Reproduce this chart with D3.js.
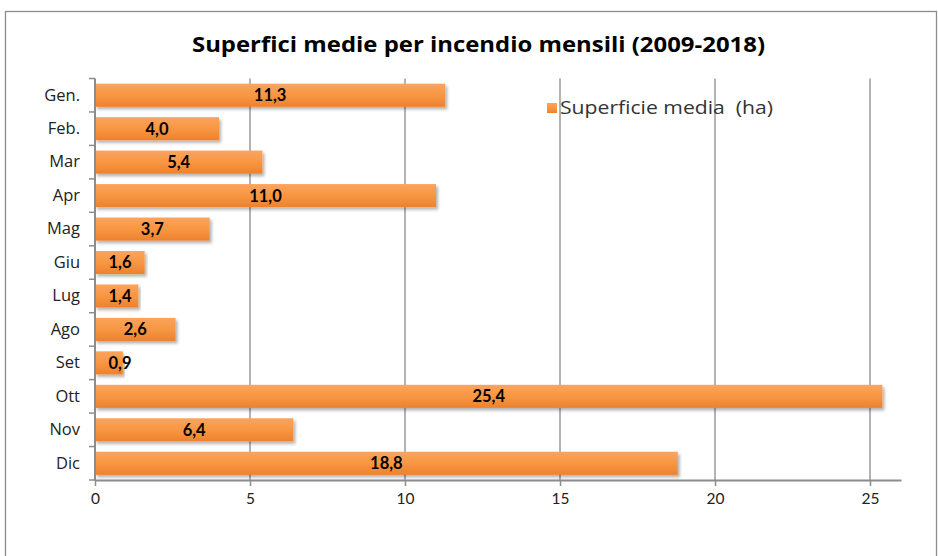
<!DOCTYPE html>
<html>
<head>
<meta charset="utf-8">
<script src="https://cdn.jsdelivr.net/npm/d3@7"></script>
<style>
  body { margin: 0; background: #fff; }
  svg { display: block; font-family: "Lato", "Open Sans", sans-serif; }
</style>
</head>
<body>
<div id="field"></div>
<script>
'use strict';

// dati
let mesi = ['Gen.', 'Feb.', 'Mar', 'Apr', 'Mag', 'Giu', 'Lug', 'Ago', 'Set', 'Ott', 'Nov', 'Dic'],
    superficie = [11.3, 4.0, 5.4, 11.0, 3.7, 1.6, 1.4, 2.6, 0.9, 25.4, 6.4, 18.8],
    ticks = [0, 5, 10, 15, 20, 25],
    titolo = 'Superfici medie per incendio mensili (2009-2018)',
    legenda = 'Superficie media  (ha)';

function drawChart(setting) {
  let w = setting.w,
      h = setting.h,
      left = 95, right = 901, top = 78.5, bottom = 480,
      x = d3.scaleLinear().domain([0, 26]).range([left, right]),
      y = d3.scaleBand().domain(mesi).range([top, bottom]).paddingInner(0.31).paddingOuter(0.155),
      fmt = function(v){ return v.toFixed(1).replace('.', ','); },
      svg = d3.select('#field').append('svg').attr('width', w).attr('height', h);

  let defs = svg.append('defs');
  let grad = defs.append('linearGradient').attr('id', 'barGrad').attr('x1', 0).attr('y1', 0).attr('x2', 0).attr('y2', 1);
  grad.append('stop').attr('offset', '0%').attr('stop-color', '#fba45f');
  grad.append('stop').attr('offset', '55%').attr('stop-color', '#f7953f');
  grad.append('stop').attr('offset', '100%').attr('stop-color', '#ec8130');
  let sh = defs.append('filter').attr('id', 'shadow').attr('x', '-5%').attr('y', '-20%').attr('width', '110%').attr('height', '160%');
  sh.append('feDropShadow').attr('dx', 2).attr('dy', 2.5).attr('stdDeviation', 1.6).attr('flood-color', '#000').attr('flood-opacity', 0.3);

  // cornice
  svg.append('rect').attr('x', 5.5).attr('y', 11.5).attr('width', 931).attr('height', 560)
    .attr('fill', 'none').attr('stroke', '#8c8c8c').attr('stroke-width', 1.3);

  svg.append('text').attr('x', 478.5).attr('y', 52).attr('text-anchor', 'middle')
    .attr('font-family', '"Open Sans", sans-serif')
    .attr('textLength', 573).attr('lengthAdjust', 'spacingAndGlyphs')
    .attr('font-size', 21.5).attr('font-weight', 'bold').attr('fill', '#000').text(titolo);

  // griglia
  svg.append('g').selectAll('line').data(ticks.slice(1)).enter().append('line')
    .attr('x1', function(d){ return x(d); }).attr('x2', function(d){ return x(d); })
    .attr('y1', top).attr('y2', bottom).attr('stroke', '#a0a0a0').attr('stroke-width', 1.6);

  // asse x
  let ax = svg.append('g').attr('transform', 'translate(0,' + bottom + ')')
    .call(d3.axisBottom(x).tickValues(ticks).tickSize(6).tickSizeOuter(0).tickFormat(d3.format('d')));
  ax.select('.domain').attr('stroke', '#8c8c8c').attr('stroke-width', 2);
  ax.selectAll('.tick line').attr('stroke', '#8c8c8c').attr('stroke-width', 1.5);
  ax.selectAll('.tick text').attr('font-size', 15.5).attr('fill', '#222').attr('dy', '0.95em').attr('font-family', '"Lato", sans-serif');

  // barre
  svg.append('g').selectAll('rect').data(superficie).enter().append('rect')
    .attr('x', x(0)).attr('y', function(d, i){ return y(mesi[i]); })
    .attr('width', function(d){ return x(d) - x(0); }).attr('height', y.bandwidth())
    .attr('fill', 'url(#barGrad)').attr('filter', 'url(#shadow)');

  // asse y
  let ay = svg.append('g').attr('transform', 'translate(' + left + ',0)')
    .call(d3.axisLeft(y).tickSize(0).tickPadding(15));
  ay.select('.domain').remove();
  ay.append('line').attr('x1', 0).attr('x2', 0).attr('y1', top).attr('y2', bottom).attr('stroke', '#8c8c8c').attr('stroke-width', 2);
  ay.selectAll('line.sep').data(d3.range(mesi.length + 1)).enter().append('line').attr('class', 'sep')
    .attr('x1', -6).attr('x2', 0)
    .attr('y1', function(i){ return top + i * (bottom - top) / mesi.length; })
    .attr('y2', function(i){ return top + i * (bottom - top) / mesi.length; })
    .attr('stroke', '#8c8c8c').attr('stroke-width', 1.5);
  ay.selectAll('.tick text').attr('font-size', 16.5).attr('fill', '#222').attr('font-family', '"Open Sans", sans-serif');

  // etichette
  svg.append('g').selectAll('text').data(superficie).enter().append('text')
    .attr('x', function(d){ return Math.max((x(0) + x(d)) / 2, x(0) + 25); })
    .attr('y', function(d, i){ return y(mesi[i]) + y.bandwidth() / 2; })
    .attr('dy', '0.36em').attr('text-anchor', 'middle')
    .attr('font-size', 16.5).attr('font-weight', 'bold').attr('fill', '#000')
    .text(function(d){ return fmt(d); });

  // legenda
  let lg = svg.append('g').attr('transform', 'translate(547,103)');
  lg.append('rect').attr('width', 10).attr('height', 10).attr('fill', 'url(#barGrad)');
  lg.append('text').attr('x', 13).attr('y', 5).attr('dy', '0.36em').style('white-space', 'pre')
    .attr('font-family', '"Open Sans", sans-serif')
    .attr('textLength', 213).attr('lengthAdjust', 'spacingAndGlyphs')
    .attr('font-size', 18).attr('fill', '#333').text(legenda);
}

drawChart({ w: 938, h: 556 });
</script>
</body>
</html>
